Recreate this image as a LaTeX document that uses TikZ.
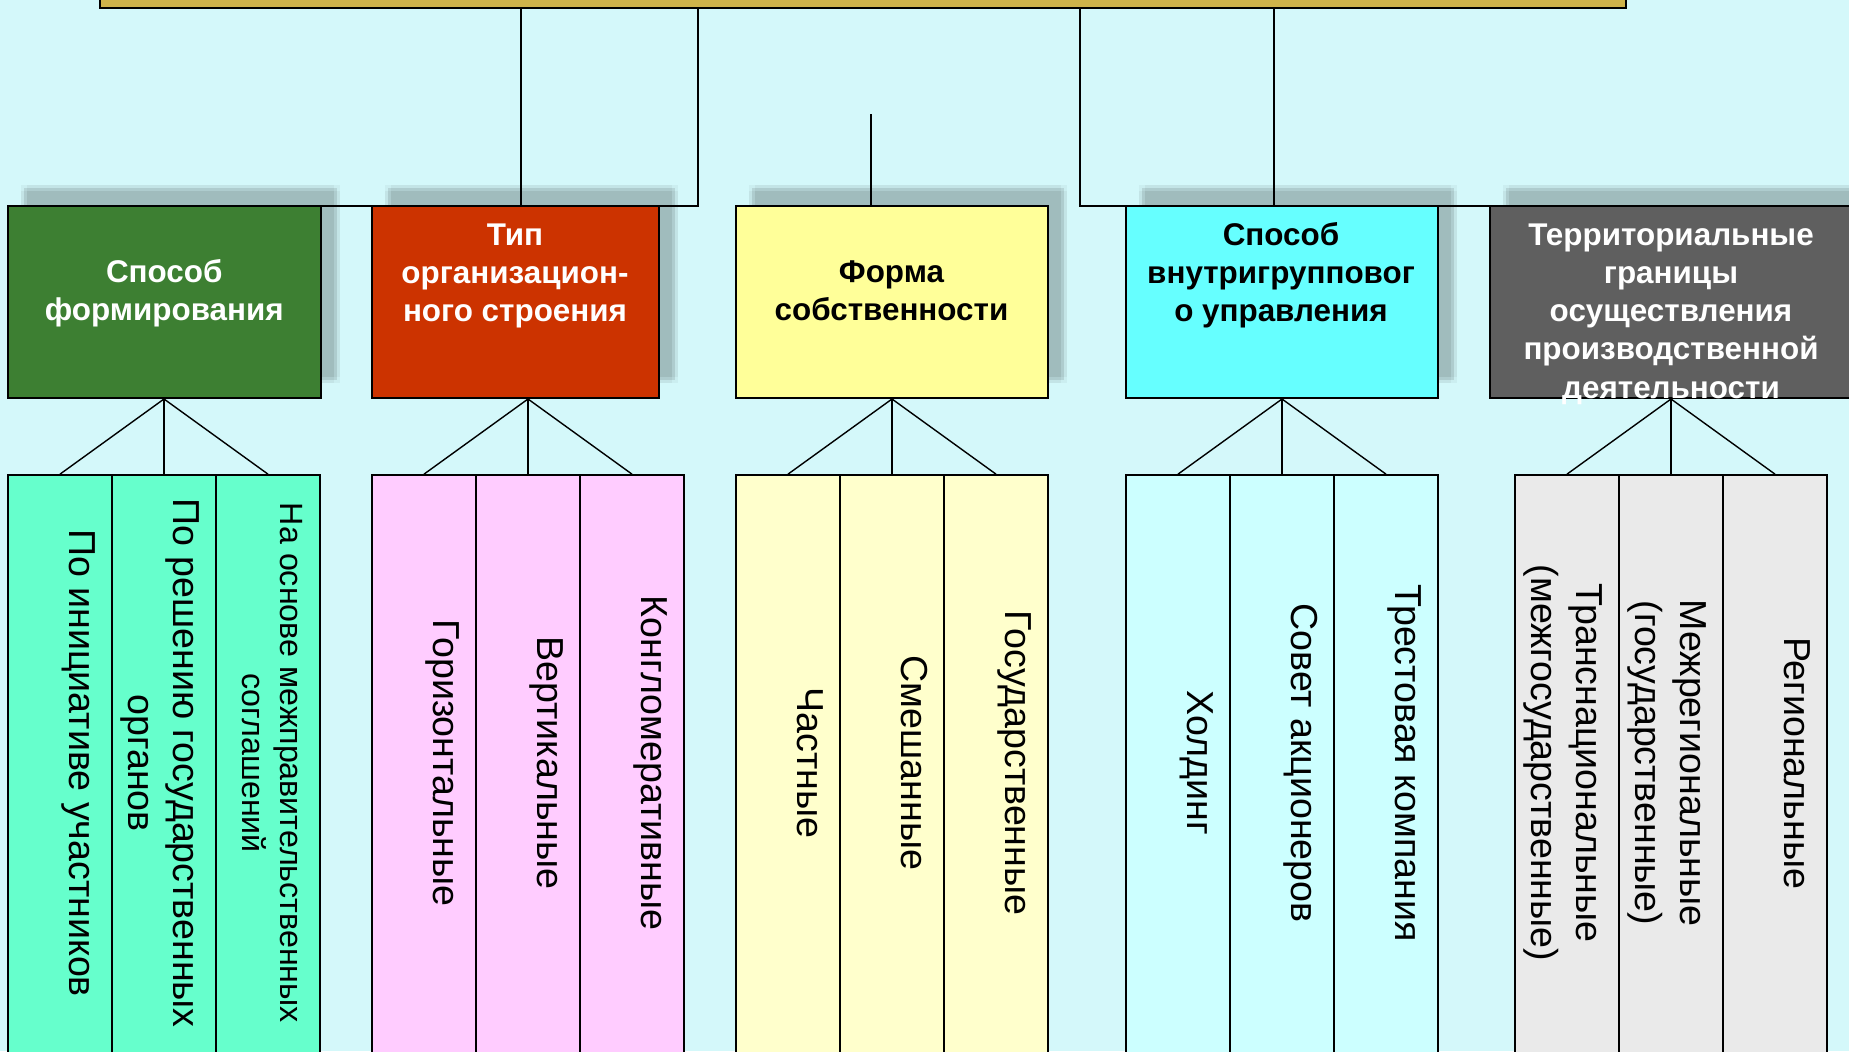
\documentclass[tikz,border=0pt]{standalone}
\usepackage{fontspec}
\setmainfont{Liberation Sans}
\usetikzlibrary{shadows}
\definecolor{bg}{HTML}{D4F8FA}
\definecolor{gold}{HTML}{CFB34A}
\definecolor{cgreen}{HTML}{3D7F32}
\definecolor{cred}{HTML}{CC3300}
\definecolor{cyellow}{HTML}{FFFF99}
\definecolor{ccyan}{HTML}{66FFFF}
\definecolor{cgray}{HTML}{5F5F5F}
\definecolor{sgreen}{HTML}{66FFCC}
\definecolor{spink}{HTML}{FFCCFF}
\definecolor{syellow}{HTML}{FFFFCC}
\definecolor{scyan}{HTML}{CCFFFF}
\definecolor{sgray}{HTML}{EAEAEA}
\newcommand\mystack[1]{\begin{tabular}[t]{@{}c@{}}#1\end{tabular}}
\begin{document}
\begin{tikzpicture}[x=0.5pt,y=-0.5pt,
  softshadow/.style={
    general shadow={fill=black, draw=none, fill opacity=0.10, shadow xshift=8pt, shadow yshift=9pt},
    general shadow={fill=black, draw=none, fill opacity=0.04, shadow xshift=6.5pt, shadow yshift=7.5pt},
    general shadow={fill=black, draw=none, fill opacity=0.04, shadow xshift=9.5pt, shadow yshift=10.5pt},
    general shadow={fill=black, draw=none, fill opacity=0.04, shadow xshift=6.5pt, shadow yshift=10.5pt},
    general shadow={fill=black, draw=none, fill opacity=0.04, shadow xshift=9.5pt, shadow yshift=7.5pt}},
  catbox/.style={softshadow, draw=black, line width=1pt, inner sep=0pt, minimum height=96pt},
  subbox/.style={draw=black, line width=0.85pt, inner sep=0pt, minimum width=52pt, minimum height=292.5pt},
  cattext/.style={font=\fontsize{15.7}{19.15}\selectfont\bfseries, inner sep=0pt, anchor=base},
  subtext/.style={font=\fontsize{18.8}{22.25}\selectfont, inner sep=0pt, anchor=base, rotate=-90},
  smalltext/.style={font=\fontsize{16.1}{18.65}\selectfont, inner sep=0pt, anchor=base, rotate=-90},
  conn/.style={draw=black, line width=0.7pt}]
\path[use as bounding box, fill=bg] (0,0) rectangle (1849,1051);
\clip (0,0) rectangle (1849,1051);

% root bar
\node[draw=black, fill=gold, line width=1pt, minimum width=763pt, minimum height=20pt, inner sep=0pt] (root) at (863,-12) {};

% category boxes
\node[catbox, fill=cgreen, minimum width=156.25pt] (b1) at (164.25,302) {};
\node[catbox, fill=cred, minimum width=143.25pt] (b2) at (515.25,302) {};
\node[catbox, fill=cyellow, minimum width=155.75pt] (b3) at (891.75,302) {};
\node[catbox, fill=ccyan, minimum width=155.75pt] (b4) at (1281.75,302) {};
\node[catbox, fill=cgray, minimum width=190pt] (b5) at (1679.5,302) {};

\node[cattext, text=white] (t1) at (164.25,282) {\mystack{Способ\\формирования}};
\node[cattext, text=white] (t2) at (515,245) {\mystack{Тип\\организацион-\\ного строения}};
\node[cattext] (t3) at (891.5,282) {\mystack{Форма\\собственности}};
\node[cattext] (t4) at (1281,245) {\mystack{Способ\\внутригрупповог\\о управления}};
\node[cattext, text=white] (t5) at (1671,245) {\mystack{Территориальные\\границы\\осуществления\\производственной\\деятельности}};

% sub columns
\node[subbox, fill=sgreen] (g1) at (60,767.5) {};
\node[subbox, fill=sgreen] (g2) at (164,767.5) {};
\node[subbox, fill=sgreen] (g3) at (268,767.5) {};
\node[subbox, fill=spink] (p1) at (424,767.5) {};
\node[subbox, fill=spink] (p2) at (528,767.5) {};
\node[subbox, fill=spink] (p3) at (632,767.5) {};
\node[subbox, fill=syellow] (y1) at (788,767.5) {};
\node[subbox, fill=syellow] (y2) at (892,767.5) {};
\node[subbox, fill=syellow] (y3) at (996,767.5) {};
\node[subbox, fill=scyan] (c1) at (1178,767.5) {};
\node[subbox, fill=scyan] (c2) at (1282,767.5) {};
\node[subbox, fill=scyan] (c3) at (1386,767.5) {};
\node[subbox, fill=sgray] (r1) at (1567,767.5) {};
\node[subbox, fill=sgray] (r2) at (1671,767.5) {};
\node[subbox, fill=sgray] (r3) at (1775,767.5) {};

% sub texts
\node[subtext] (tg1) at (69,763) {\mystack{По инициативе участников}};
\node[subtext] (tg2) at (173,763) {\mystack{По решению государственных\\органов}};
\node[smalltext] (tg3) at (280,763) {\mystack{На основе межправительственных\\соглашений}};
\node[subtext] (tp1) at (433,763) {\mystack{Горизонтальные}};
\node[subtext] (tp2) at (537,763) {\mystack{Вертикальные}};
\node[subtext] (tp3) at (641,763) {\mystack{Конгломеративные}};
\node[subtext] (ty1) at (797,763) {\mystack{Частные}};
\node[subtext] (ty2) at (901,763) {\mystack{Смешанные}};
\node[subtext] (ty3) at (1005,763) {\mystack{Государственные}};
\node[subtext] (tc1) at (1187,763) {\mystack{Холдинг}};
\node[subtext] (tc2) at (1291,763) {\mystack{Совет акционеров}};
\node[subtext] (tc3) at (1395,763) {\mystack{Трестовая компания}};
\node[subtext] (tr1) at (1576,763) {\mystack{Транснациональные\\(межгосударственные)}};
\node[subtext] (tr2) at (1680,763) {\mystack{Межрегиональные\\(государственные)}};
\node[subtext] (tr3) at (1784,763) {\mystack{Региональные}};

% top connectors
\coordinate (h1) at (172,206);
\coordinate (h2) at (698,206);
\coordinate (v1) at (521,206);
\coordinate (h3) at (1080,206);
\coordinate (h4) at (1849,206);
\coordinate (v2) at (1274,206);
\coordinate (s3) at (871,114);
\draw[conn] (root.south -| h2) -- (h2) -- (h1);
\draw[conn] (root.south -| v1) -- (v1);
\draw[conn] (root.south -| h3) -- (h3) -- (h4);
\draw[conn] (root.south -| v2) -- (v2);
\draw[conn] (s3) -- (s3 |- b3.north);

% fans
\foreach \b/\a/\m/\c in {b1/g1/g2/g3, b2/p1/p2/p3, b3/y1/y2/y3, b4/c1/c2/c3, b5/r1/r2/r3}{
  \draw[conn] (\b.south -| \m.north) -- (\a.north);
  \draw[conn] (\b.south -| \m.north) -- (\m.north);
  \draw[conn] (\b.south -| \m.north) -- (\c.north);
}
\end{tikzpicture}
\end{document}
